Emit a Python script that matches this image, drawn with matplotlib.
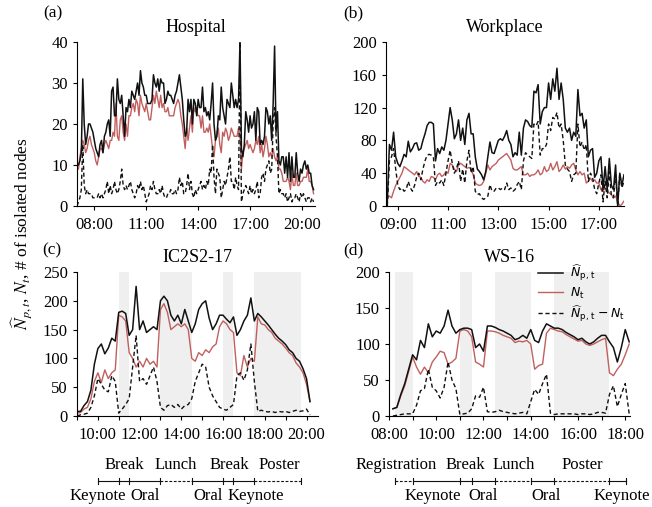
import numpy as np
import matplotlib
matplotlib.use("Agg")
import matplotlib.pyplot as plt
import matplotlib.transforms as mtransforms
from matplotlib.font_manager import FontProperties
from matplotlib.ticker import FixedLocator, FuncFormatter

plt.rcParams["font.family"] = ["Liberation Serif", "DejaVu Serif"]
plt.rcParams["mathtext.fontset"] = "stix"
plt.rcParams["axes.linewidth"] = 0.8
plt.rcParams["xtick.major.size"] = 3
plt.rcParams["ytick.major.size"] = 3
plt.rcParams["xtick.major.width"] = 0.8
plt.rcParams["ytick.major.width"] = 0.8
plt.rcParams["xtick.major.pad"] = 5
plt.rcParams["xtick.labelsize"] = 12
plt.rcParams["ytick.labelsize"] = 12

BLACK = "#111111"
RED = "#c0605e"
SHADE = "#efefef"

# (a) Hospital, 5-minute samples from 07:00
hosp_start, hosp_step = 7.0, 5
hosp_np = [10, 10, 11, 13, 31, 20, 15, 17, 20, 20, 19, 18,
           16, 14, 13, 12, 15, 16, 13, 17, 18, 20, 21, 17,
           28, 29, 22, 22, 31, 26, 25, 27, 22, 17, 24, 23,
           26, 24, 28, 27, 26, 28, 30, 27, 33, 30, 29, 27,
           27, 25, 25, 25, 26, 32, 30, 29, 31, 28, 31, 30,
           30, 25, 26, 28, 27, 27, 26, 25, 27, 28, 30, 32,
           29, 26, 21, 17, 18, 26, 23, 26, 20, 26, 25, 22,
           26, 24, 24, 29, 23, 24, 22, 23, 21, 25, 30, 20,
           16, 17, 22, 21, 29, 24, 22, 20, 26, 25, 24, 30,
           27, 24, 26, 24, 26, 40, 14, 12, 15, 23, 21, 18,
           22, 19, 20, 23, 16, 24, 23, 15, 16, 15, 17, 24,
           23, 20, 22, 16, 25, 39, 18, 23, 11, 10, 12, 12,
           8, 12, 7, 13, 6, 12, 7, 7, 13, 8, 6, 9,
           8, 10, 11, 9, 10, 8, 8, 5, 4]
hosp_n = [9, 9, 12, 14, 16, 15, 13, 14, 16, 17, 15, 14,
          13, 11, 10, 12, 14, 14, 13, 15, 16, 15, 14, 16,
          16, 18, 17, 25, 17, 16, 21, 22, 18, 16, 20, 17,
          22, 22, 24, 25, 23, 26, 25, 22, 27, 25, 24, 23,
          25, 23, 21, 21, 24, 27, 25, 28, 26, 24, 27, 24,
          25, 23, 23, 24, 22, 22, 22, 22, 24, 25, 26, 25,
          22, 20, 17, 14, 19, 16, 19, 22, 18, 24, 23, 23,
          22, 22, 19, 22, 18, 18, 19, 18, 20, 17, 14, 12,
          16, 18, 19, 15, 13, 18, 17, 19, 18, 16, 17, 19,
          18, 17, 17, 17, 19, 17, 9, 13, 14, 15, 16, 14,
          15, 14, 13, 14, 16, 15, 17, 13, 15, 12, 14, 17,
          15, 12, 13, 12, 14, 12, 11, 12, 9, 9, 8, 6,
          6, 6, 7, 6, 4, 8, 5, 5, 8, 5, 5, 6,
          6, 7, 7, 7, 9, 6, 6, 5, 3]
hosp_diff = [0, 1, 2, 4, 15, 5, 3, 4, 3, 3, 3, 2,
             2, 2, 2, 3, 2, 3, 2, 3, 4, 6, 3, 5,
             3, 4, 6, 4, 3, 4, 6, 9, 5, 4, 5, 4,
             5, 6, 4, 3, 2, 3, 5, 4, 6, 4, 5, 3,
             1, 2, 3, 5, 4, 6, 4, 3, 3, 4, 3, 5,
             3, 2, 2, 3, 3, 4, 3, 3, 4, 3, 4, 7,
             5, 6, 3, 3, 5, 8, 4, 6, 3, 2, 4, 3,
             4, 5, 6, 4, 5, 4, 6, 5, 9, 8, 15, 7,
             3, 9, 8, 7, 2, 4, 6, 5, 7, 9, 12, 6,
             6, 4, 7, 5, 4, 40, 1, 3, 4, 5, 4, 3,
             5, 3, 4, 3, 4, 6, 2, 3, 7, 8, 6, 9,
             10, 11, 8, 9, 20, 24, 17, 12, 3, 4, 3, 3,
             2, 3, 1, 2, 3, 1, 2, 2, 3, 2, 1, 3,
             2, 3, 2, 1, 2, 2, 1, 2, 1]

# (b) Workplace, 5-minute samples from 08:35
work_start, work_step = 8 + 35 / 60, 5
work_np = [5, 75, 68, 90, 60,
           52, 48, 55, 63, 60, 79, 66, 70, 76, 77, 68, 70,
           80, 88, 98, 102, 102, 100, 55, 70, 64, 72, 68, 80,
           100, 120, 105, 82, 88, 105, 80, 95, 75, 105, 113, 88,
           88, 60, 45, 42, 38, 32, 42, 60, 78, 65, 64, 72,
           80, 82, 80, 85, 92, 80, 75, 60, 65, 62, 90, 62,
           95, 105, 103, 98, 96, 140, 138, 148, 100, 115, 120, 120,
           150, 130, 155, 140, 168, 130, 150, 130, 95, 90, 95, 80,
           90, 85, 142, 110, 113, 95, 105, 60, 68, 70, 35, 40,
           55, 60, 20, 48, 20, 58, 25, 20, 50, 0, 40, 25,
           38]
work_n = [10, 12, 10, 18, 25,
          30, 35, 40, 48, 46, 44, 42, 40, 38, 42, 36, 35,
          30, 28, 32, 30, 36, 35, 32, 38, 40, 36, 38, 42,
          40, 52, 50, 45, 42, 50, 52, 50, 48, 46, 47, 45,
          38, 28, 26, 25, 26, 30, 40, 50, 44, 48, 50, 52,
          56, 58, 60, 62, 64, 60, 56, 46, 44, 44, 46, 48,
          38, 38, 40, 36, 38, 38, 40, 44, 38, 40, 48, 42,
          44, 52, 44, 48, 54, 42, 45, 50, 45, 48, 46, 50,
          52, 44, 38, 42, 38, 40, 28, 30, 34, 30, 32, 28,
          28, 20, 18, 22, 18, 16, 14, 10, 12, 6, 0, 2,
          6]
work_diff = [0, 55, 60, 70, 45,
             25, 20, 22, 18, 20, 30, 22, 18, 25, 35, 40, 32,
             45, 55, 62, 63, 62, 60, 25, 30, 28, 32, 25, 40,
             55, 68, 52, 40, 45, 55, 30, 45, 28, 55, 68, 40,
             48, 18, 14, 15, 10, 8, 10, 12, 26, 18, 18, 22,
             22, 20, 22, 20, 28, 20, 22, 18, 20, 26, 30, 20,
             55, 65, 62, 60, 58, 100, 98, 103, 62, 70, 70, 75,
             100, 92, 108, 106, 114, 95, 100, 80, 50, 45, 42, 30,
             38, 40, 100, 72, 78, 68, 75, 30, 40, 35, 20, 15,
             28, 38, 5, 30, 10, 42, 12, 10, 38, 0, 40, 22,
             30]

# (c) IC2S2-17, 10-minute samples from 09:00
ic_start, ic_step = 9.0, 10
ic_np = [8, 8, 18, 25, 45, 90,
         117, 125, 108, 118, 135, 130,
         180, 182, 178, 140, 150, 225,
         150, 165, 145, 150, 155, 150,
         200, 208, 200, 175, 165, 175,
         160, 185, 165, 145, 160, 185,
         195, 200, 170, 150, 160, 175,
         175, 168, 162, 172, 140, 150,
         165, 175, 205, 165, 178, 172,
         165, 158, 150, 142, 135, 130,
         124, 115, 110, 100, 95, 82,
         65, 25]
ic_n = [5, 6, 12, 15, 30, 60,
        75, 58, 80, 65, 75, 80,
        175, 172, 165, 110, 100, 85,
        95, 85, 100, 90, 95, 85,
        185, 195, 180, 150, 155, 160,
        155, 160, 150, 100, 95, 110,
        105, 115, 110, 120, 125, 155,
        165, 160, 150, 145, 75, 70,
        105, 85, 100, 95, 172, 160,
        158, 150, 145, 135, 130, 125,
        118, 110, 105, 92, 85, 75,
        55, 25]
ic_diff = [0, 2, 3, 5, 15, 35,
           65, 55, 45, 42, 70, 60,
           5, 12, 20, 30, 85, 140,
           60, 65, 55, 70, 85, 60,
           15, 10, 18, 20, 15, 20,
           12, 18, 20, 30, 60, 75,
           90, 85, 50, 35, 25, 15,
           12, 10, 15, 20, 70, 75,
           62, 80, 125, 60, 8, 10,
           8, 7, 8, 6, 8, 7,
           8, 6, 8, 10, 8, 9,
           12, 2]
ic_shade = [(11.0, 11.5), (13.0, 14.5), (16.0, 16.5), (17.5, 19.75)]
ic_bounds = [10.0, 11.0, 11.5, 13.0, 14.5, 16.0, 16.5, 17.5, 19.75]
ic_sessions = ["Keynote", "Break", "Oral", "Lunch", "Oral", "Break", "Keynote", "Poster"]
ic_dashed = [False, False, False, True, False, False, False, True]
ic_label_x = [10.0, 11.25, 12.25, 13.75, 15.3, 16.3, 17.55, 18.7]

# (d) WS-16, 10-minute samples from 08:10
ws_start, ws_step = 8 + 10 / 60, 10
ws_np = [10, 12, 30, 45, 65,
         85, 78, 105, 95, 128, 110,
         118, 115, 125, 147, 125, 115,
         120, 122, 122, 120, 95, 100,
         90, 125, 125, 123, 120, 118,
         115, 112, 106, 108, 112, 108,
         120, 105, 102, 118, 128, 125,
         122, 122, 120, 116, 113, 110,
         106, 108, 103, 100, 103, 108,
         112, 112, 103, 95, 75, 95,
         120, 103]
ws_n = [10, 12, 28, 42, 62,
        82, 68, 58, 68, 60, 75,
        82, 90, 88, 72, 75, 80,
        118, 120, 118, 110, 75, 72,
        68, 118, 118, 117, 115, 112,
        110, 108, 102, 104, 103, 105,
        100, 65, 70, 72, 115, 122,
        120, 118, 117, 113, 110, 107,
        104, 105, 100, 98, 100, 103,
        106, 108, 60, 56, 65, 72,
        85, 100]
ws_diff = [0, 1, 2, 3, 3,
           3, 15, 35, 38, 65, 40,
           35, 25, 40, 75, 50, 38,
           2, 3, 4, 10, 28, 26,
           40, 6, 5, 6, 8, 6,
           5, 4, 3, 4, 5, 3,
           20, 37, 30, 45, 58, 4,
           2, 3, 3, 3, 3, 3,
           2, 3, 3, 2, 3, 5,
           5, 4, 30, 42, 13, 30,
           45, 3]
ws_shade = [(8.25, 9.0), (11.0, 11.5), (12.5, 14.0), (15.0, 17.33)]
ws_bounds = [8.25, 9.0, 11.0, 11.5, 12.5, 14.0, 15.0, 17.33, 18.05]
ws_sessions = ["Registration", "Keynote", "Break", "Oral", "Lunch", "Oral", "Poster", "Keynote"]
ws_dashed = [True, False, False, False, True, False, True, False]
ws_label_x = [8.3, 9.85, 11.22, 12.0, 13.3, 14.65, 16.2, 17.85]


def times(start, step_min, n):
    return start + np.arange(n) * step_min / 60.0


def hhmm(x, pos=None):
    m = int(round(x * 60))
    return f"{m // 60:02d}:{m % 60:02d}"


def even_hhmm(x, pos=None):
    m = int(round(x * 60))
    return hhmm(x) if (m // 60) % 2 == 0 else ""


def style_axes(ax, title):
    for side in ["top", "right"]:
        ax.spines[side].set_visible(False)
    ax.tick_params(direction="out")
    ax.set_title(title, fontsize=13, pad=7)


def draw_series(ax, t, np_, n, diff):
    l2, = ax.plot(t, n, color=RED, lw=1.0)
    l3, = ax.plot(t, diff, color=BLACK, lw=1.0, dashes=(3, 2))
    l1, = ax.plot(t, np_, color=BLACK, lw=1.1)
    return l1, l2, l3


def draw_schedule(ax, bounds, names, dashed, label_x, first_above):
    tr = mtransforms.blended_transform_factory(ax.transData, ax.transAxes)
    y0, y_up, y_dn, h = -0.451, -0.34, -0.556, 0.022
    for i, name in enumerate(names):
        a, b = bounds[i], bounds[i + 1]
        ls = (0, (2.5, 1.5)) if dashed[i] else "-"
        ax.plot([a, b], [y0, y0], transform=tr, clip_on=False,
                color=BLACK, lw=0.8, ls=ls)
        above = (i % 2 == 0) == first_above
        ax.text(label_x[i], y_up if above else y_dn, name, transform=tr,
                ha="center", va="center", fontsize=12)
    for x in bounds:
        ax.plot([x, x], [y0 - h, y0 + h], transform=tr, clip_on=False,
                color=BLACK, lw=0.8)


fig = plt.figure(figsize=(6.52, 5.07), dpi=100)
ax_a = fig.add_axes([0.1181, 0.5937, 0.3650, 0.3235])
ax_b = fig.add_axes([0.5920, 0.5937, 0.3650, 0.3235])
ax_c = fig.add_axes([0.1181, 0.1795, 0.3696, 0.2840])
ax_d = fig.add_axes([0.5966, 0.1795, 0.3696, 0.2840])

# (a)
draw_series(ax_a, times(hosp_start, hosp_step, len(hosp_np)), hosp_np, hosp_n, hosp_diff)
style_axes(ax_a, "Hospital")
ax_a.set_xlim(7.0, 20.75)
ax_a.set_ylim(0, 40)
ax_a.xaxis.set_major_locator(FixedLocator([8, 11, 14, 17, 20]))
ax_a.xaxis.set_major_formatter(FuncFormatter(hhmm))
ax_a.set_yticks([0, 10, 20, 30, 40])

# (b)
draw_series(ax_b, times(work_start, work_step, len(work_np)), work_np, work_n, work_diff)
style_axes(ax_b, "Workplace")
ax_b.set_xlim(8.53, 18.0)
ax_b.set_ylim(0, 200)
ax_b.xaxis.set_major_locator(FixedLocator([9, 11, 13, 15, 17]))
ax_b.xaxis.set_major_formatter(FuncFormatter(hhmm))
ax_b.set_yticks([0, 40, 80, 120, 160, 200])

# (c)
for a, b in ic_shade:
    ax_c.axvspan(a, b, color=SHADE, lw=0, zorder=0)
draw_series(ax_c, times(ic_start, ic_step, len(ic_np)), ic_np, ic_n, ic_diff)
style_axes(ax_c, "IC2S2-17")
ax_c.set_xlim(9.0, 20.55)
ax_c.set_ylim(0, 250)
ax_c.xaxis.set_major_locator(FixedLocator(list(range(9, 21))))
ax_c.xaxis.set_major_formatter(FuncFormatter(even_hhmm))
ax_c.set_yticks([0, 50, 100, 150, 200, 250])
draw_schedule(ax_c, ic_bounds, ic_sessions, ic_dashed, ic_label_x, first_above=False)

# (d)
for a, b in ws_shade:
    ax_d.axvspan(a, b, color=SHADE, lw=0, zorder=0)
lines = draw_series(ax_d, times(ws_start, ws_step, len(ws_np)), ws_np, ws_n, ws_diff)
style_axes(ax_d, "WS-16")
ax_d.set_xlim(8.0, 18.2)
ax_d.set_ylim(0, 200)
ax_d.xaxis.set_major_locator(FixedLocator(list(range(8, 19))))
ax_d.xaxis.set_major_formatter(FuncFormatter(even_hhmm))
ax_d.set_yticks([0, 50, 100, 150, 200])
draw_schedule(ax_d, ws_bounds, ws_sessions, ws_dashed, ws_label_x, first_above=True)

leg_font = FontProperties(family="DejaVu Sans", size=9)
leg_font.set_math_fontfamily("dejavusans")
ax_d.legend(lines,
            [r"$\widehat{N}_{\mathrm{p,\,t}}$", r"$N_{\mathrm{t}}$",
             r"$\widehat{N}_{\mathrm{p,\,t}} - N_{\mathrm{t}}$"],
            loc="upper right", bbox_to_anchor=(1.0, 1.1), frameon=False,
            prop=leg_font, handlelength=2.0, handletextpad=0.6,
            labelspacing=0.2, borderaxespad=0)

fig.text(0.034, 0.54, r"$\widehat{N}_{p,t}$, $N_t$, # of isolated nodes",
         rotation=90, ha="center", va="center", fontsize=12.5)
for lbl, x, y in [("(a)", 53, 13), ("(b)", 353, 13), ("(c)", 52, 250), ("(d)", 353, 250)]:
    fig.text(x / 652, 1 - y / 507, lbl, ha="center", va="center", fontsize=12.5)

fig.savefig("out.png", dpi=100)
